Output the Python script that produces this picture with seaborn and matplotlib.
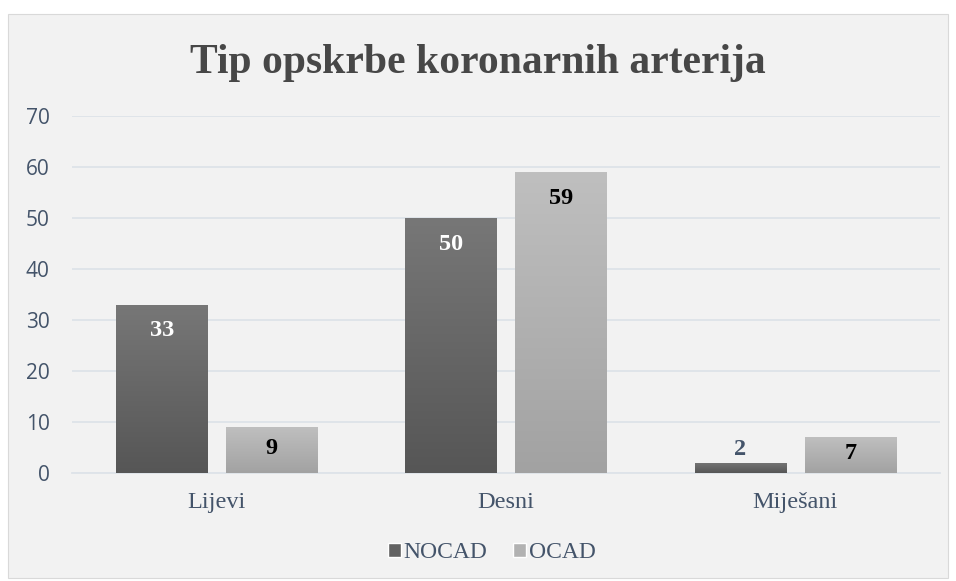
import matplotlib
matplotlib.use("Agg")
import matplotlib.pyplot as plt
import matplotlib.patches as mpatches
from matplotlib.colors import LinearSegmentedColormap
import seaborn as sns
import numpy as np
import pandas as pd

# ── Data ──────────────────────────────────────────────────────────────────────
categories = ["Lijevi", "Desni", "Miješani"]
groups     = ["NOCAD", "OCAD"]
nocad      = [33, 50, 2]
ocad       = [9, 59, 7]
y_ticks    = [0, 10, 20, 30, 40, 50, 60, 70]
title      = "Tip opskrbe koronarnih arterija"

df = pd.DataFrame({
    "Tip": categories * 2,
    "Skupina": [groups[0]] * len(nocad) + [groups[1]] * len(ocad),
    "Broj": nocad + ocad,
})

# ── Style ─────────────────────────────────────────────────────────────────────
SERIF  = "Liberation Serif"
SANS   = "Open Sans"
TEXT   = "#44546A"
GRID   = "#DEE3E9"
PANEL  = "#F2F2F2"
GRAD = {
    "NOCAD": ("#777777", "#565656"),
    "OCAD":  ("#BFBFBF", "#A2A2A2"),
}
LABEL_COL = {"NOCAD": "white", "OCAD": "black"}

sns.set_theme(style="white")

fig = plt.figure(figsize=(9.56, 5.81), dpi=100, facecolor="white")
# chart area panel
fig.patches.append(mpatches.Rectangle(
    (8 / 956, 1 - 578 / 581), 940 / 956, 564 / 581,
    transform=fig.transFigure, facecolor=PANEL, edgecolor="#D9D9D9",
    linewidth=0.8, zorder=-5))

ax = fig.add_axes([72 / 956, 1 - 473 / 581, 868 / 956, 357 / 581])
ax.set_facecolor(PANEL)

sns.barplot(data=df, x="Tip", y="Broj", hue="Skupina",
            palette=[GRAD[g][1] for g in groups], saturation=1,
            width=0.76, gap=0.17, legend=False, ax=ax, zorder=3,
            linewidth=0)

ax.set_xlim(-0.5, len(categories) - 0.5)
ax.set_ylim(y_ticks[0], y_ticks[-1])
ax.set_yticks(y_ticks)
ax.grid(axis="y", color=GRID, linewidth=1.3, zorder=0)
ax.grid(axis="x", visible=False)
for side in ["top", "right", "left"]:
    ax.spines[side].set_visible(False)
ax.spines["bottom"].set_color(GRID)
ax.spines["bottom"].set_linewidth(1.3)
ax.set_xlabel("")
ax.set_ylabel("")
ax.tick_params(axis="y", length=0, pad=16, labelsize=15, labelcolor=TEXT)
ax.tick_params(axis="x", length=0, pad=14, labelsize=17.5, labelcolor=TEXT)
for lbl in ax.get_yticklabels():
    lbl.set_fontfamily(SANS)
for lbl in ax.get_xticklabels():
    lbl.set_fontfamily(SERIF)

# gradient fill on bars + value labels
px_per_unit = ax.transData.transform((0, 1))[1] - ax.transData.transform((0, 0))[1]
for g, cont in zip(groups, ax.containers):
    cmap = LinearSegmentedColormap.from_list(g, [GRAD[g][0], GRAD[g][1]])
    for bar in cont:
        x0, w, h = bar.get_x(), bar.get_width(), bar.get_height()
        bar.set_facecolor("none")
        img = ax.imshow(np.linspace(0, 1, 256).reshape(-1, 1), cmap=cmap,
                        extent=[x0, x0 + w, 0, h], origin="upper",
                        aspect="auto", zorder=3)
        img.set_clip_path(bar)
        h_px = h * px_per_unit
        xc = x0 + w / 2
        if h_px > 30:
            dy = -min(26, h_px / 2 - 2) * 0.72
            col = LABEL_COL[g]
        else:
            dy = 13 * 0.72
            col = TEXT
        ax.annotate(f"{h:.0f}", xy=(xc, h), xytext=(0, dy),
                    textcoords="offset points", ha="center", va="center",
                    fontsize=17.5, fontweight="bold", family=SERIF,
                    color=col, zorder=5)

ax.set_xlim(-0.5, len(categories) - 0.5)
ax.set_ylim(y_ticks[0], y_ticks[-1])

fig.text(0.5, 1 - 63 / 581, title, ha="center", va="center",
         fontsize=30, fontweight="bold", family=SERIF, color="#474747")

handles = [mpatches.Patch(facecolor="#626262", label=groups[0]),
           mpatches.Patch(facecolor="#B2B2B2", label=groups[1])]
leg = fig.legend(handles=handles, loc="center", ncol=2,
                 bbox_to_anchor=(492 / 956, 1 - 553 / 581), frameon=False,
                 handlelength=0.55, handleheight=0.55, handletextpad=0.1,
                 columnspacing=1.1, prop={"family": SERIF, "size": 17})
for t in leg.get_texts():
    t.set_color(TEXT)

fig.savefig("out.png", dpi=100, facecolor="white")
